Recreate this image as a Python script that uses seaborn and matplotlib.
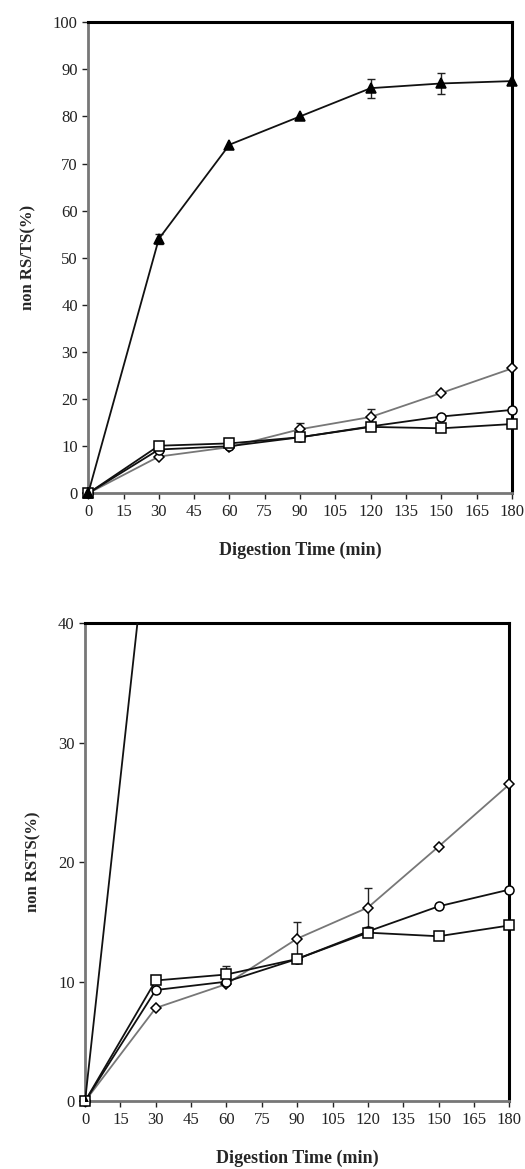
"""Starch digestion curves: non RS/TS (%) vs digestion time, full and zoomed range."""

import matplotlib
matplotlib.use("Agg")
import matplotlib.pyplot as plt
import pandas as pd
import seaborn as sns

time_min = [0, 30, 60, 90, 120, 150, 180]

triangle_vals = [0, 54.0, 74.0, 80.0, 86.0, 87.0, 87.5]
triangle_err = [0, 1.0, 0, 0, 2.0, 2.2, 0]

diamond_vals = [0, 7.8, 9.8, 13.6, 16.2, 21.3, 26.5]
diamond_err = [0, 0, 0, 1.4, 1.6, 0, 0]

circle_vals = [0, 9.3, 10.0, 11.9, 14.2, 16.3, 17.7]
circle_err = [0, 0, 0, 0, 0, 0, 0]

square_vals = [0, 10.1, 10.6, 11.9, 14.1, 13.8, 14.7]
square_err = [0, 0, 0.7, 0, 0, 0, 0]

x_ticks = list(range(0, 181, 15))
top_yticks = list(range(0, 101, 10))
bottom_yticks = list(range(0, 41, 10))

series = [
    # name, values, errors, marker, face, line colour, marker size
    ("diamond", diamond_vals, diamond_err, "D", "white", "#777777", 5),
    ("circle", circle_vals, circle_err, "o", "white", "#111111", 6.5),
    ("square", square_vals, square_err, "s", "white", "#111111", 7.5),
    ("triangle", triangle_vals, triangle_err, "^", "black", "#111111", 7.5),
]

sns.set_theme(style="white")
plt.rcParams["font.family"] = ["Liberation Serif", "DejaVu Serif"]

fig = plt.figure(figsize=(5.25, 11.69), dpi=100)
ax_top = fig.add_axes([0.168, 0.578, 0.807, 0.403])
ax_bot = fig.add_axes([0.162, 0.058, 0.808, 0.409])


def draw_panel(ax, ylim, yticks, ylabel):
    for name, vals, errs, marker, face, color, ms in series:
        df = pd.DataFrame({"time": time_min, "value": vals})
        # the steep curve runs off the zoomed panel, so only it gets clipped there
        clip = name == "triangle" and ylim[1] < 90
        sns.lineplot(
            data=df, x="time", y="value", ax=ax, color=color, lw=1.3,
            marker=marker, markersize=ms, markerfacecolor=face,
            markeredgecolor="black", markeredgewidth=1.1, clip_on=clip,
            zorder=3,
        )
        pts = [(t, v, e) for t, v, e in zip(time_min, vals, errs) if e > 0]
        if pts and not clip:
            ts, vs, es = zip(*pts)
            ax.errorbar(
                ts, vs, yerr=es, fmt="none", ecolor="#222222",
                elinewidth=1.0, capsize=3, capthick=1.0, clip_on=False, zorder=2,
            )

    ax.set_xlim(0, 180)
    ax.set_ylim(*ylim)
    ax.set_xticks(x_ticks)
    ax.set_yticks(yticks)
    ax.tick_params(axis="both", direction="out", length=4, width=1,
                   labelsize=12, colors="#222222", bottom=True, left=True)
    ax.set_xlabel("Digestion Time (min)", fontsize=13, fontweight="bold",
                  labelpad=16)
    ax.set_ylabel(ylabel, fontsize=12, fontweight="bold", labelpad=12)

    for side in ("left", "bottom"):
        ax.spines[side].set_color("#777777")
        ax.spines[side].set_linewidth(2.0)
    for side in ("top", "right"):
        ax.spines[side].set_color("black")
        ax.spines[side].set_linewidth(2.2)


draw_panel(ax_top, (0, 100), top_yticks, "non RS/TS(%)")
draw_panel(ax_bot, (0, 40), bottom_yticks, "non RSTS(%)")

fig.savefig("out.png", dpi=100)
